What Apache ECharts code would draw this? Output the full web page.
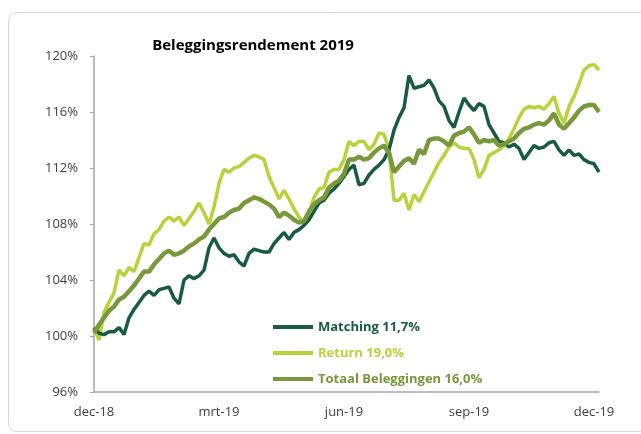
<!DOCTYPE html>
<html>
<head>
<meta charset="utf-8">
<script src="https://cdn.jsdelivr.net/npm/echarts@6/dist/echarts.min.js"></script>
<style>
html,body{margin:0;padding:0;background:#fff;}
#c{width:641px;height:434px;}
</style>
</head>
<body>
<div id="c"></div>
<script>
var tickLabels = ['dec-18', 'mrt-19', 'jun-19', 'sep-19', 'dec-19'];
var seriesNames = ['Matching 11,7%', 'Return 19,0%', 'Totaal Beleggingen 16,0%'];

var matching = [100.6,100.2,100.1,100.3,100.3,100.6,100.1,101.3,101.9,102.4,102.9,103.2,102.9,103.3,103.4,103.5,102.7,102.3,104.0,104.3,
104.1,104.3,104.7,106.3,107.0,106.3,105.9,105.7,105.8,105.3,105.0,105.9,106.2,106.1,106.0,106.0,106.6,107.0,107.4,106.9,
107.4,107.6,107.9,108.3,108.9,109.5,109.7,110.2,110.5,110.9,111.4,111.9,112.2,110.8,110.9,111.5,111.9,112.2,112.6,113.3,
114.7,115.6,116.3,118.6,117.7,117.8,117.9,118.3,117.7,116.8,116.4,115.4,114.9,116.0,117.0,116.5,116.1,116.6,116.4,115.1,
114.5,113.9,113.8,113.5,113.7,113.4,112.6,113.1,113.6,113.4,113.5,113.8,113.9,113.3,112.9,113.3,112.9,113.0,112.6,112.4,
112.3,111.7];

var returnS = [100.6,99.7,101.7,102.4,103.1,104.7,104.3,104.9,104.6,105.6,106.6,106.5,107.3,107.6,108.2,108.5,108.2,108.5,107.9,108.4,
108.9,109.5,108.8,108.0,109.2,110.9,111.9,111.7,112.0,112.1,112.4,112.7,112.9,112.8,112.6,111.4,110.6,109.8,110.4,109.8,
109.1,108.5,108.1,108.8,109.9,110.5,110.6,111.7,111.9,111.9,112.6,113.9,113.6,113.9,113.9,113.3,113.7,114.5,114.4,113.3,
109.7,109.7,110.2,109.0,110.1,109.6,110.3,111.0,111.7,112.4,112.9,113.5,113.8,113.5,113.4,113.4,112.6,111.3,111.9,112.9,
113.1,113.3,113.6,114.1,114.8,115.6,116.2,116.4,116.3,116.4,116.2,116.6,117.1,115.9,115.2,116.4,117.1,118.0,119.0,119.3,
119.4,119.0];

var totaal = [100.2,100.8,101.3,101.8,102.1,102.6,102.8,103.2,103.6,104.1,104.6,104.6,105.1,105.5,105.9,106.1,105.8,105.9,106.1,106.4,
106.6,106.9,107.1,107.6,108.0,108.4,108.5,108.8,109.0,109.1,109.5,109.7,109.9,109.8,109.6,109.4,109.1,108.5,108.8,108.6,
108.3,108.1,108.2,108.9,109.4,109.7,109.9,110.6,110.9,111.1,111.6,112.6,112.6,112.8,112.6,112.7,113.1,113.4,113.6,113.1,
111.7,112.1,112.5,112.7,112.3,113.3,113.0,114.0,114.1,114.1,113.9,113.6,114.3,114.5,114.6,114.9,114.4,113.8,114.0,113.9,
114.0,113.6,113.7,113.9,114.1,114.5,114.8,114.9,115.1,115.2,115.1,115.4,115.9,115.1,114.8,115.2,115.6,116.1,116.4,116.5,
116.5,116.0];

var colors = ['#195b40', '#b8d23c', '#77983b'];

function pairs(arr){ return arr.map(function(v,i){ return [i, v]; }); }

var font = 'Open Sans';
var chart = echarts.init(document.getElementById('c'), null, {renderer:'canvas'});
chart.setOption({
  animation: false,
  graphic: [{
    type: 'rect',
    shape: {x: 8.5, y: 12.5, width: 660, height: 419, r: 8},
    style: {fill: 'none', stroke: '#d9d9d9', lineWidth: 1},
    z: -10
  }],
  title: {
    text: 'Beleggingsrendement 2019',
    left: 248,
    top: 33,
    textAlign: 'center',
    textStyle: {fontFamily: font, fontWeight: 'bold', fontSize: 15, color: '#000'}
  },
  grid: {left: 94, right: 42, top: 56, bottom: 42, containLabel: false},
  xAxis: {
    type: 'value',
    min: 0, max: 101, interval: 25,
    splitLine: {show: false},
    axisTick: {show: false},
    axisLine: {lineStyle: {color: '#a6a6a6', width: 1.5}},
    axisLabel: {
      margin: 14,
      fontFamily: font, fontSize: 13, color: '#404040',
      formatter: function(v){ return (v % 25 === 0) ? tickLabels[v/25] : ''; }
    }
  },
  yAxis: {
    type: 'value',
    min: 96, max: 120, interval: 4,
    splitLine: {show: false},
    axisLine: {show: true, lineStyle: {color: '#a6a6a6', width: 1.5}},
    axisTick: {show: true, length: 4, lineStyle: {color: '#a6a6a6'}},
    axisLabel: {
      margin: 16,
      fontFamily: font, fontSize: 13, color: '#404040',
      formatter: function(v){ return v + '%'; }
    }
  },
  legend: {
    orient: 'vertical',
    left: 268, top: 314,
    itemWidth: 40, itemHeight: 4,
    itemGap: 10,
    icon: 'rect',
    textStyle: {fontFamily: font, fontWeight: 'bold', fontSize: 13, lineHeight: 16},
    data: [
      {name: seriesNames[0], textStyle: {color: colors[0]}},
      {name: seriesNames[1], textStyle: {color: colors[1]}},
      {name: seriesNames[2], textStyle: {color: colors[2]}}
    ]
  },
  series: [
    {name: seriesNames[1], type: 'line', data: pairs(returnS), showSymbol: false, symbol: 'none',
     lineStyle: {color: colors[1], width: 3.5}, itemStyle: {color: colors[1]}, z: 2},
    {name: seriesNames[0], type: 'line', data: pairs(matching), showSymbol: false, symbol: 'none',
     lineStyle: {color: colors[0], width: 3.5}, itemStyle: {color: colors[0]}, z: 3},
    {name: seriesNames[2], type: 'line', data: pairs(totaal), showSymbol: false, symbol: 'none',
     lineStyle: {color: colors[2], width: 4.5}, itemStyle: {color: colors[2]}, z: 4}
  ]
});
</script>
</body>
</html>
